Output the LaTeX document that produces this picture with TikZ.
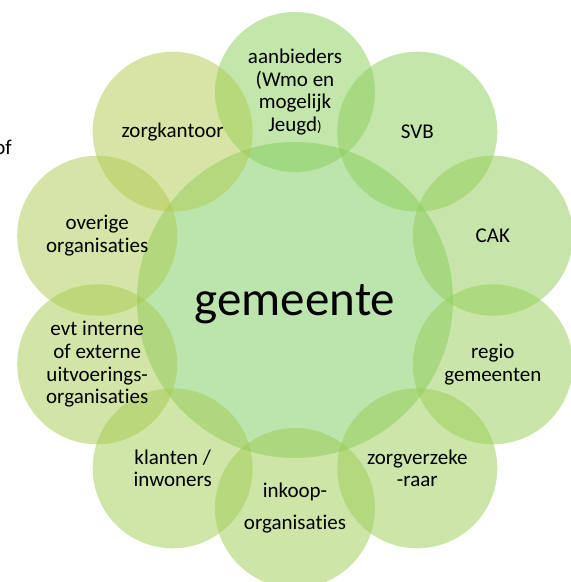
\documentclass[tikz,border=0pt]{standalone}
\usepackage{fontspec}
\setmainfont{Carlito}[Ligatures=NoCommon]
\definecolor{cgreen}{RGB}{135,205,88}
\definecolor{cyellow}{RGB}{175,202,78}
\definecolor{ccentre}{RGB}{122,202,92}
\colorlet{oc0}{cyellow!0!cgreen}
\colorlet{oc1}{cyellow!11!cgreen}
\colorlet{oc2}{cyellow!22!cgreen}
\colorlet{oc3}{cyellow!33!cgreen}
\colorlet{oc4}{cyellow!44!cgreen}
\colorlet{oc5}{cyellow!56!cgreen}
\colorlet{oc6}{cyellow!67!cgreen}
\colorlet{oc7}{cyellow!78!cgreen}
\colorlet{oc8}{cyellow!89!cgreen}
\colorlet{oc9}{cyellow!100!cgreen}
\tikzset{
  outer/.style={circle, minimum size=160bp, inner sep=0pt, fill opacity=0.5, text opacity=1,
    align=center, font=\fontsize{21bp}{22.8bp}\selectfont},
  centre/.style={circle, minimum size=316bp, inner sep=0pt, fill=ccentre, fill opacity=0.5},
  bigtext/.style={font=\fontsize{49bp}{55bp}\selectfont},
  smalltext/.style={font=\fontsize{21bp}{22.8bp}\selectfont}
}
\begin{document}
\begin{tikzpicture}[x=1bp,y=-1bp]
\useasboundingbox (0,0) rectangle (571,582);
\node[centre] (c) at (295,300) {};
\node[outer, fill=oc0] (n0) at (295,92) {aanbieders\\(Wmo en\\mogelijk\\Jeugd{\fontsize{15bp}{16bp}\selectfont )}};
\node[outer, fill=oc1] (n1) at (417.3,131.7) {SVB};
\node[outer, fill=oc2] (n2) at (492.8,235.7) {CAK};
\node[outer, fill=oc3] (n3) at (492.8,364.3) {regio\\gemeenten};
\node[outer, fill=oc4] (n4) at (417.3,468.3) {zorgverzeke\\-raar};
\node[outer, fill=oc5] (n5) at (295,508) {inkoop-\\[9bp]organisaties};
\node[outer, fill=oc6] (n6) at (172.7,468.3) {klanten /\\inwoners};
\node[outer, fill=oc7] (n7) at (97.2,364.3) {evt interne\\of externe\\uitvoerings-\\organisaties};
\node[outer, fill=oc8] (n8) at (97.2,235.7) {overige\\organisaties};
\node[outer, fill=oc9] (n9) at (172.7,131.7) {zorgkantoor};
\node[bigtext, anchor=base] (ct) at (295,315) {gemeente};
\node[smalltext, anchor=base east, inner sep=0pt] (of) at (12,155) {of};
\end{tikzpicture}
\end{document}
